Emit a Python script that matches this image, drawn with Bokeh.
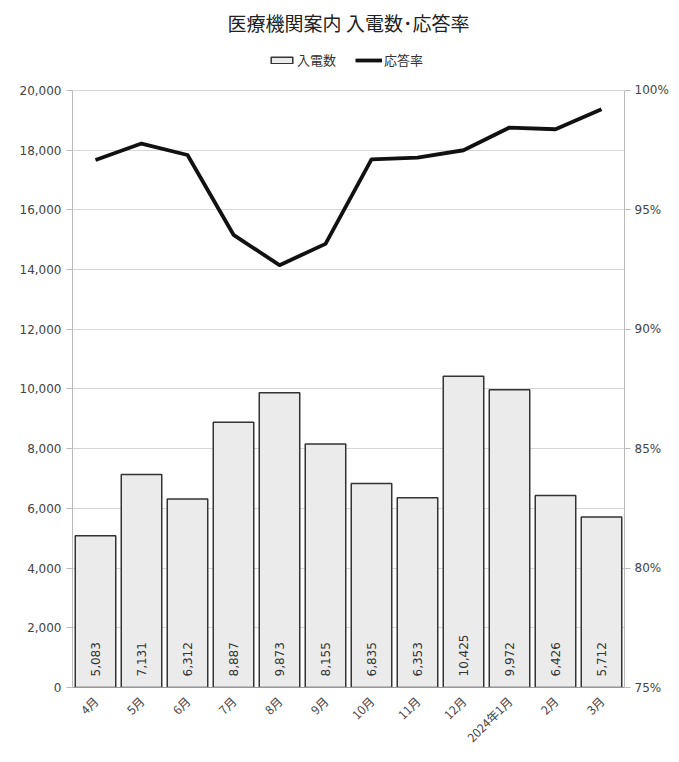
from math import pi
from bokeh.plotting import figure
from bokeh.models import (FactorRange, Range1d, LinearAxis, NumeralTickFormatter,
                          PrintfTickFormatter, Legend, LegendItem, ColumnDataSource, FixedTicker)
from bokeh.core.properties import value
from bokeh.embed import file_html
from bokeh.resources import INLINE

months = ["4月", "5月", "6月", "7月", "8月", "9月", "10月", "11月", "12月", "2024年1月", "2月", "3月"]
calls = [5083, 7131, 6312, 8887, 9873, 8155, 6835, 6353, 10425, 9972, 6426, 5712]
rate = [97.08, 97.77, 97.29, 93.95, 92.68, 93.57, 97.11, 97.18, 97.49, 98.44, 98.37, 99.21]
left_ticks = [0, 2000, 4000, 6000, 8000, 10000, 12000, 14000, 16000, 18000, 20000]
right_ticks = [75, 80, 85, 90, 95, 100]

JP = "Noto Sans CJK JP"
NUM = "DejaVu Sans"

# axis spans; the frame reaches a little higher to hold the legend
L_MIN, L_MAX = 0, 20000
R_MIN, R_MAX = 75, 100
HEADROOM = 1.075
L_TOP = L_MAX * HEADROOM
R_TOP = R_MIN + (R_MAX - R_MIN) * HEADROOM

src = ColumnDataSource(dict(
    month=months, calls=calls, rate=rate,
    label=[f"{v:,}" for v in calls],
    base=[0] * len(calls),
))

p = figure(x_range=FactorRange(*months), y_range=Range1d(L_MIN, L_TOP),
           width=671, height=754,
           min_border_left=72, min_border_right=43, min_border_top=45, min_border_bottom=64,
           output_backend="svg", toolbar_location=None,
           title="医療機関案内 入電数･応答率")
p.extra_y_ranges = {"rate": Range1d(R_MIN, R_TOP)}

p.title.align = "center"
p.title.vertical_align = "top"
p.title.text_font = JP
p.title.text_font_size = "19px"
p.title.text_font_style = "normal"
p.title.text_color = "#222222"
p.title.standoff = 16

p.outline_line_color = None
p.background_fill_color = "white"
p.border_fill_color = "white"

# bars
bars = p.vbar(x="month", top="calls", width=0.88, source=src,
              fill_color="#ebebeb", line_color="#333333", line_width=1.5)
# line (right axis)
line = p.line(x="month", y="rate", source=src, y_range_name="rate",
              line_color="#111111", line_width=3.8, line_join="round")

# value labels in bars
p.text(x="month", y="base", text="label", source=src, angle=pi / 2,
       text_align="left", text_baseline="middle", y_offset=-11,
       text_font=value(NUM), text_font_size="12px", text_color="#333333")

# left axis
ya = p.yaxis[0]
ya.bounds = (L_MIN, L_MAX)
ya.ticker = FixedTicker(ticks=left_ticks)
ya.formatter = NumeralTickFormatter(format="0,0")
ya.major_label_text_font = NUM
ya.major_label_text_font_size = "12px"
ya.major_label_text_color = "#444444"
ya.axis_line_color = "#bbbbbb"
ya.major_tick_line_color = "#bbbbbb"
ya.major_tick_out = 6
ya.major_tick_in = 0
ya.minor_tick_line_color = None

# right axis
ra = LinearAxis(y_range_name="rate", ticker=FixedTicker(ticks=right_ticks),
                formatter=PrintfTickFormatter(format="%d%%"), bounds=(R_MIN, R_MAX))
ra.major_label_text_font = NUM
ra.major_label_text_font_size = "12px"
ra.major_label_text_color = "#444444"
ra.axis_line_color = "#bbbbbb"
ra.major_tick_line_color = "#bbbbbb"
ra.major_tick_out = 6
ra.major_tick_in = 0
ra.major_label_standoff = 4
ra.minor_tick_line_color = None
p.add_layout(ra, "right")

# x axis
xa = p.xaxis[0]
xa.major_label_orientation = pi / 4
xa.major_label_text_font = JP
xa.major_label_text_font_size = "12px"
xa.major_label_text_color = "#444444"
xa.axis_line_color = "#999999"
xa.major_tick_line_color = None
xa.group_text_font_size = "0px"

p.xgrid.grid_line_color = None
p.ygrid.ticker = FixedTicker(ticks=left_ticks)
p.ygrid.grid_line_color = "#d6d6d6"
p.ygrid.grid_line_width = 1

legend = Legend(items=[LegendItem(label="入電数", renderers=[bars]),
                       LegendItem(label="応答率", renderers=[line])],
                orientation="horizontal", location=(196, 618),
                label_text_font=JP, label_text_font_size="13px", label_text_color="#333333",
                glyph_width=27, glyph_height=8, spacing=19, padding=4, margin=0,
                label_standoff=2, border_line_color=None, background_fill_alpha=0)
p.add_layout(legend, "center")

open("out.html", "w").write(file_html(p, INLINE))
